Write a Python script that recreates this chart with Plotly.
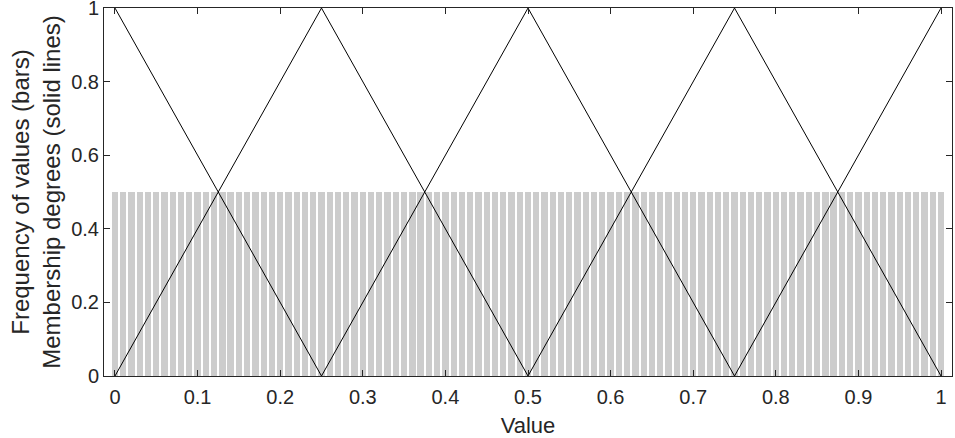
import plotly.graph_objects as go

# Histogram bars (normalised frequency of values)
bar_x = [round(i * 0.01, 2) for i in range(101)]
bar_y = [0.5] * 101

# Triangular membership functions (x breakpoints, y degrees)
mf_x = [
    [0.0, 0.25],
    [0.0, 0.25, 0.5],
    [0.25, 0.5, 0.75],
    [0.5, 0.75, 1.0],
    [0.75, 1.0],
]
mf_y = [
    [1, 0],
    [0, 1, 0],
    [0, 1, 0],
    [0, 1, 0],
    [0, 1],
]

x_ticks = [0, 0.1, 0.2, 0.3, 0.4, 0.5, 0.6, 0.7, 0.8, 0.9, 1]
x_tick_labels = ["0", "0.1", "0.2", "0.3", "0.4", "0.5", "0.6", "0.7", "0.8", "0.9", "1"]
y_ticks = [0, 0.2, 0.4, 0.6, 0.8, 1]
y_tick_labels = ["0", "0.2", "0.4", "0.6", "0.8", "1"]

FONT = "Liberation Sans, Arial, Helvetica, sans-serif"
TXT = "#262626"

fig = go.Figure()
fig.add_trace(go.Bar(x=bar_x, y=bar_y, width=0.0076,
                     marker=dict(color="#cccccc", line=dict(width=0)),
                     showlegend=False, hoverinfo="skip", cliponaxis=False))
for xs, ys in zip(mf_x, mf_y):
    fig.add_trace(go.Scatter(x=xs, y=ys, mode="lines",
                             line=dict(color="black", width=1),
                             showlegend=False, cliponaxis=False))

axis_common = dict(showline=True, linecolor=TXT, linewidth=1, mirror="ticks",
                   ticks="inside", ticklen=6, tickcolor=TXT, tickwidth=1,
                   showgrid=False, zeroline=False, ticklabeloverflow="allow",
                   automargin=False,
                   tickfont=dict(family=FONT, size=20, color=TXT))

fig.update_layout(
    width=955, height=438,
    margin=dict(l=104, r=3, t=8, b=62, autoexpand=False),
    plot_bgcolor="white", paper_bgcolor="white",
    bargap=0,
    xaxis=dict(range=[-0.0133, 1.0133], tickvals=x_ticks, ticktext=x_tick_labels,
               ticklabelstandoff=3,
               title=dict(text="Value", standoff=10,
                          font=dict(family=FONT, size=22, color=TXT)),
               **axis_common),
    yaxis=dict(range=[0, 1.0001], tickvals=y_ticks, ticktext=y_tick_labels,
               title=dict(text="Frequency of values (bars)<br>Membership degrees (solid lines)", standoff=3,
                          font=dict(family=FONT, size=24, color=TXT)),
               **axis_common),
)

fig.write_html("out.html")
